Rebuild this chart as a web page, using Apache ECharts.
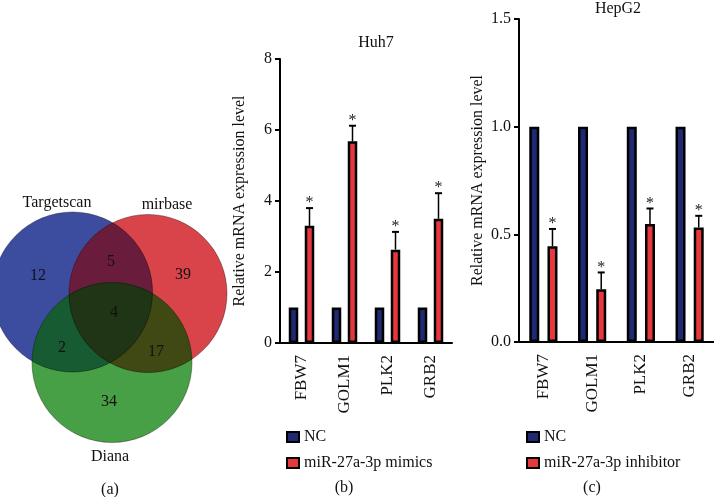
<!DOCTYPE html>
<html><head><meta charset="utf-8">
<script src="https://cdn.jsdelivr.net/npm/echarts@6/dist/echarts.min.js"></script>
<style>html,body{margin:0;padding:0;background:#fff}#c{width:714px;height:497px}</style>
</head><body><div id="c"></div>
<script>
// ---------- data ----------
const genes = ['FBW7', 'GOLM1', 'PLK2', 'GRB2'];
const huh7NC = [1, 1, 1, 1];
const huh7Mimics = [3.3, 5.68, 2.63, 3.5];
const huh7MimicsErr = [0.5, 0.44, 0.5, 0.72];
const hepNC = [1, 1, 1, 1];
const hepInhibitor = [0.445, 0.245, 0.548, 0.532];
const hepInhibitorErr = [0.08, 0.078, 0.072, 0.054];
const huh7Ticks = [0, 2, 4, 6, 8];
const hepTicks = ['0.0', '0.5', '1.0', '1.5'];
const vennSets = ['Targetscan', 'mirbase', 'Diana'];
const vennRegions = ['T', 'M', 'D', 'TM', 'TD', 'MD', 'TMD'];
const vennCounts = [12, 39, 34, 5, 2, 17, 4];

// ---------- layout / style ----------
const SERIF = '"Liberation Serif", "DejaVu Serif", serif';
const TXT = '#111';
const NAVY = '#1f2a72';
const RED = '#e8383d';
const circles = {
  T: { cx: 72.5, cy: 292, r: 80, fill: '#3c4c9e' },
  M: { cx: 148, cy: 293.5, r: 79, fill: '#d9444a' },
  D: { cx: 112, cy: 362.5, r: 80, fill: '#48a046' }
};
const regionFill = { TM: '#6a1c3c', TD: '#175b32', MD: '#404913', TMD: '#1f3516' };
const regionLabelPos = { T: [38, 276], M: [183, 275], D: [109, 402], TM: [111, 262], TD: [62, 348], MD: [156, 352], TMD: [114, 313] };
const setLabelPos = [[57, 203], [167, 205], [110, 457]];

function inside(c, p) { return Math.hypot(p[0] - c.cx, p[1] - c.cy) <= c.r + 1e-6; }
function intersectPoly(keys) {
  const cs = keys.map(k => circles[k]);
  const pts = [];
  cs.forEach((c, i) => {
    for (let k = 0; k < 720; k++) {
      const a = k / 720 * Math.PI * 2;
      const p = [c.cx + c.r * Math.cos(a), c.cy + c.r * Math.sin(a)];
      if (cs.every((o, j) => j === i || inside(o, p))) pts.push(p);
    }
  });
  const mx = pts.reduce((s, p) => s + p[0], 0) / pts.length;
  const my = pts.reduce((s, p) => s + p[1], 0) / pts.length;
  pts.sort((a, b) => Math.atan2(a[1] - my, a[0] - mx) - Math.atan2(b[1] - my, b[0] - mx));
  return pts;
}

const graphics = [];
['T', 'M', 'D'].forEach(k => {
  const c = circles[k];
  graphics.push({ type: 'circle', shape: { cx: c.cx, cy: c.cy, r: c.r }, style: { fill: c.fill }, z: 1 });
});
['TM', 'TD', 'MD', 'TMD'].forEach(k => {
  graphics.push({ type: 'polygon', shape: { points: intersectPoly(k.split('')) }, style: { fill: regionFill[k] }, z: 2 });
});
['T', 'M', 'D'].forEach(k => {
  const c = circles[k];
  graphics.push({ type: 'circle', shape: { cx: c.cx, cy: c.cy, r: c.r }, style: { fill: 'none', stroke: 'rgba(0,0,0,0.35)', lineWidth: 1 }, z: 3 });
});
function txt(t, x, y, size) {
  return { type: 'text', x: x, y: y, z: 5, style: { text: t, font: (size || 16) + 'px ' + SERIF, fill: TXT, align: 'center', verticalAlign: 'middle', textAlign: 'center', textVerticalAlign: 'middle' } };
}
vennRegions.forEach((r, i) => graphics.push(txt(String(vennCounts[i]), regionLabelPos[r][0], regionLabelPos[r][1])));
vennSets.forEach((s, i) => graphics.push(txt(s, setLabelPos[i][0], setLabelPos[i][1])));
graphics.push(txt('Huh7', 376, 43));
graphics.push(txt('HepG2', 618, 9));
graphics.push(txt('(a)', 110, 490));
graphics.push(txt('(b)', 344, 488));
graphics.push(txt('(c)', 592, 488));

// ---------- bars ----------
const BW = [9.5, 10];
const GAP = [6.5, 8.2];
function errSeries(gi, vals, errs) {
  const off = (BW[gi] + GAP[gi]) / 2;
  return {
    type: 'custom', xAxisIndex: gi, yAxisIndex: gi, z: 5,
    data: vals.map((v, i) => [i, v, errs[i]]),
    renderItem: function (params, api) {
      const p = api.coord([api.value(0), api.value(1)]);
      const q = api.coord([api.value(0), api.value(1) + api.value(2)]);
      const x = p[0] + off;
      return {
        type: 'group', children: [
          { type: 'line', shape: { x1: x, y1: p[1], x2: x, y2: q[1] }, style: { stroke: '#000', lineWidth: 1.5 } },
          { type: 'line', shape: { x1: x - 3.5, y1: q[1], x2: x + 3.5, y2: q[1] }, style: { stroke: '#000', lineWidth: 2 } },
          { type: 'text', x: x, y: q[1] + 3, style: { text: '*', font: '16px ' + SERIF, fill: '#222', align: 'center', verticalAlign: 'bottom' } }
        ]
      };
    }
  };
}
function barSeries(gi, name, data, color) {
  return {
    type: 'bar', name: name, xAxisIndex: gi, yAxisIndex: gi, data: data,
    barWidth: BW[gi], barGap: (GAP[gi] / BW[gi] * 100) + '%',
    itemStyle: { color: color, borderColor: '#000', borderWidth: 2.5 }
  };
}
function xAx(gi) {
  return {
    gridIndex: gi, type: 'category', data: genes,
    axisLine: { lineStyle: { color: '#000', width: 2 } },
    axisTick: { alignWithLabel: true, length: 8, lineStyle: { color: '#000', width: 2 } },
    axisLabel: { rotate: 90, interval: 0, margin: 12, fontFamily: SERIF, fontSize: 17, color: TXT }
  };
}
function yAx(gi, ticks, gap) {
  const nums = ticks.map(Number);
  return {
    gridIndex: gi, type: 'value', min: nums[0], max: nums[nums.length - 1], interval: nums[1] - nums[0],
    splitLine: { show: false },
    axisLine: { show: true, lineStyle: { color: '#000', width: 2 } },
    axisTick: { show: true, length: 5, lineStyle: { color: '#000', width: 2 } },
    axisLabel: { margin: 8, fontFamily: SERIF, fontSize: 16, color: TXT,
      formatter: v => { const i = nums.findIndex(n => Math.abs(n - v) < 1e-9); return i >= 0 ? String(ticks[i]) : ''; } },
    name: 'Relative mRNA expression level', nameLocation: 'middle', nameGap: gap,
    nameTextStyle: { fontFamily: SERIF, fontSize: 16, color: TXT }
  };
}
function legend(left, names) {
  return {
    data: names, orient: 'vertical', left: left, top: 424, itemWidth: 12, itemHeight: 10, itemGap: 10,
    selectedMode: false, icon: 'rect',
    textStyle: { fontFamily: SERIF, fontSize: 16, color: TXT }
  };
}

const chart = echarts.init(document.getElementById('c'), null, { renderer: 'canvas' });
chart.setOption({
  animation: false,
  backgroundColor: '#fff',
  grid: [
    { left: 280, top: 59, width: 172, height: 284 },
    { left: 519, top: 19, width: 197, height: 323 }
  ],
  xAxis: [xAx(0), xAx(1)],
  yAxis: [yAx(0, huh7Ticks, 32), yAx(1, hepTicks, 33)],
  legend: [legend(281, ['NC', 'miR-27a-3p mimics']), legend(521, ['NC', 'miR-27a-3p inhibitor'])],
  series: [
    barSeries(0, 'NC', huh7NC, NAVY),
    barSeries(0, 'miR-27a-3p mimics', huh7Mimics, RED),
    errSeries(0, huh7Mimics, huh7MimicsErr),
    barSeries(1, 'NC', hepNC, NAVY),
    barSeries(1, 'miR-27a-3p inhibitor', hepInhibitor, RED),
    errSeries(1, hepInhibitor, hepInhibitorErr)
  ],
  graphic: graphics
});
</script></body></html>
